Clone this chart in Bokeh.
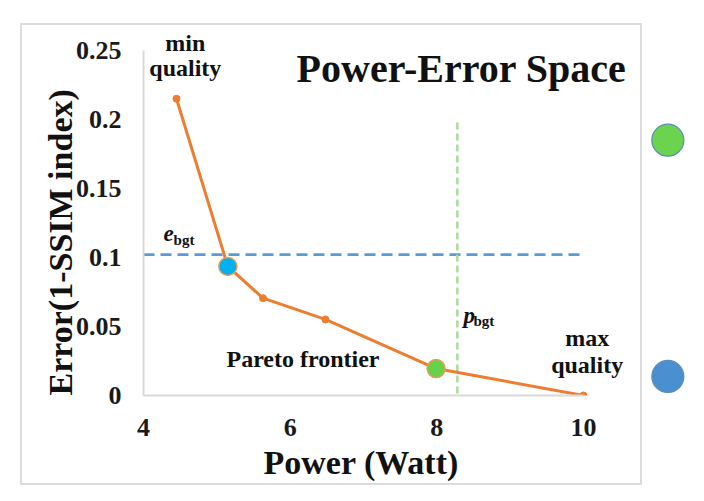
from bokeh.plotting import figure
from bokeh.models import Range1d, FixedTicker, Label, Title, InlineStyleSheet
from bokeh.embed import file_html
from bokeh.resources import INLINE

# ---- data ----
power = [4.45, 5.15, 5.63, 6.48, 7.99, 10.0]
error = [0.215, 0.0935, 0.0705, 0.0551, 0.0195, 0.0]
e_bgt = 0.102
p_bgt = 8.28
chosen_power = [5.15, 7.99]
chosen_error = [0.0935, 0.0195]
chosen_colors = ["#00B0F0", "#66D24A"]
legend_x = [11.15, 11.15]
legend_y = [0.185, 0.0138]
legend_colors = ["#6CD34F", "#4A90D0"]
x_ticks = [4, 6, 8, 10]
y_ticks = [0, 0.05, 0.1, 0.15, 0.2, 0.25]
y_tick_labels = ["0", "0.05", "0.1", "0.15", "0.2", "0.25"]
x_title = "Power (Watt)"
y_title = "Error(1-SSIM index)"
chart_title = "Power-Error Space"

SERIF = "Liberation Serif"

p = figure(width=704, height=501, x_range=Range1d(4, 11.65), y_range=Range1d(0, 0.2862),
           output_backend="svg", toolbar_location=None,
           min_border_left=143, min_border_bottom=106, min_border_top=0, min_border_right=0)
p.outline_line_color = None
p.grid.visible = False
p.background_fill_color = "white"
p.border_fill_color = "white"

for ax in (p.xaxis[0], p.yaxis[0]):
    ax.major_tick_out = 0
    ax.major_tick_in = 0
    ax.minor_tick_out = 0
    ax.minor_tick_in = 0
    ax.axis_line_color = "#d9d9d9"
    ax.axis_line_width = 2
    ax.major_label_text_font = SERIF
    ax.major_label_text_font_style = "bold"
    ax.major_label_text_font_size = "26px"
    ax.major_label_text_color = "#1a1a1a"

p.xaxis.ticker = FixedTicker(ticks=x_ticks)
p.yaxis.ticker = FixedTicker(ticks=y_ticks)
p.xaxis.bounds = (4, 10)
p.yaxis.bounds = (0, 0.25)
p.yaxis.major_label_overrides = {t: l for t, l in zip(y_ticks, y_tick_labels)}
p.xaxis.major_label_standoff = 23
p.yaxis.major_label_standoff = 22

# axis titles as side-panel titles (placed off-centre like the reference)
p.add_layout(Title(text=x_title, align="left", offset=120, standoff=6, text_font=SERIF,
                   text_font_style="bold", text_font_size="34px", text_color="#111111"), "below")
p.add_layout(Title(text=y_title, align="left", offset=0, standoff=-12, text_font=SERIF,
                   text_font_style="bold", text_font_size="34px", text_color="#111111"), "left")

# budget lines
p.line([4, 10], [e_bgt, e_bgt], line_color="#5B9BD5", line_width=2.8, line_dash="11 6")
p.line([p_bgt, p_bgt], [-0.0065, 0.2007], line_color="#A8DC98", line_width=2.5, line_dash="7 4")

# pareto frontier
p.line(power, error, line_color="#ED7D31", line_width=3)
p.scatter(power, error, size=7, fill_color="#ED7D31", line_color="#ED7D31")
p.scatter(chosen_power, chosen_error, size=18, fill_color=chosen_colors,
          line_color="#ED9A50", line_width=1.5)

# outside markers
p.scatter(legend_x, legend_y, size=32, fill_color=legend_colors, line_color="#5B8DBA", line_width=1.2)

# light grey chart border
p.stylesheets.append(InlineStyleSheet(css=(
    ":host::after{content:'';position:absolute;left:20px;top:23px;width:622px;height:462px;"
    "box-sizing:border-box;border:2px solid #dcdcdc;pointer-events:none;z-index:10;}")))

def lab(x, y, text, size, style="bold", align="left"):
    p.add_layout(Label(x=x, y=y, text=text, text_font=SERIF, text_font_style=style,
                       text_font_size=size, text_align=align, text_baseline="alphabetic",
                       text_color="#111111"))

lab(8.337, 0.2370, chart_title, "40px", align="center")
lab(4.57, 0.2551, "min", "24px", align="center")
lab(4.57, 0.2370, "quality", "24px", align="center")
lab(10.05, 0.0413, "max", "24px", align="center")
lab(10.05, 0.0218, "quality", "24px", align="center")
lab(6.175, 0.0268, "Pareto frontier", "24px", align="center")
lab(4.273, 0.1174, "e", "23px", style="bold italic")
lab(4.41, 0.1127, "bgt", "15px")
lab(8.364, 0.0580, "p", "23px", style="bold italic")
lab(8.50, 0.0540, "bgt", "15px")

open("out.html", "w").write(file_html(p, INLINE))
